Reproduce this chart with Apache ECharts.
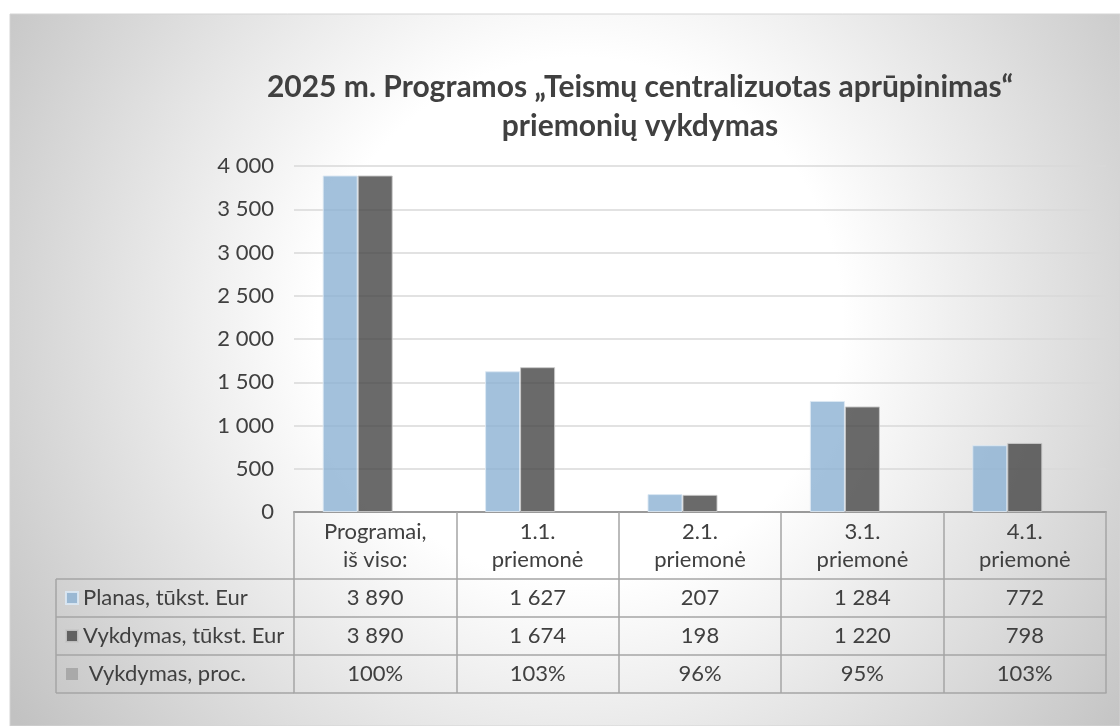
<!DOCTYPE html>
<html>
<head>
<meta charset="utf-8">
<script src="https://cdn.jsdelivr.net/npm/echarts@6/dist/echarts.min.js"></script>
<style>
  html, body { margin: 0; padding: 0; background: #fff; }
  #chart { width: 1120px; height: 726px; }
</style>
</head>
<body>
<div id="chart"></div>
<script>
const categories = ['Programai,\niš viso:', '1.1.\npriemonė', '2.1.\npriemonė', '3.1.\npriemonė', '4.1.\npriemonė']
const planas = [3890, 1627, 207, 1284, 772]
const vykdymas = [3890, 1674, 198, 1220, 798]
const vykdymasProc = [1.00, 1.03, 0.96, 0.95, 1.03]
const seriesNames = ['Planas, tūkst. Eur', 'Vykdymas, tūkst. Eur', ' Vykdymas, proc.']
const yMin = 0
const yMax = 4000
const yStep = 500

const fontFamily = 'Lato'
const textColor = '#404040'
const tableLine = '#a5a5a5'
const labelSize = 22

// 3 890 style thousands
const fmt = n => String(n).replace(/\B(?=(\d{3})+(?!\d))/g, ' ')
const pct = p => Math.round(p * 100) + '%'

// grid box (plot area + table columns)
const gridLeft = 294
const gridRight = 14
const gridTop = 166
const axisY = 512
// table row borders below the axis line
const rowOffsets = [67, 105, 143, 181]
const tableLeft = 56

const chart = echarts.init(document.getElementById('chart'))

const rowAxis = (offset, formatter) => ({
  type: 'category',
  gridIndex: 0,
  position: 'bottom',
  offset: offset,
  data: categories,
  axisLine: { show: true, lineStyle: { color: tableLine, width: 1.5 } },
  axisTick: { show: false },
  axisLabel: formatter ? {
    show: true,
    interval: 0,
    margin: 19,
    verticalAlign: 'middle',
    color: textColor,
    fontFamily: fontFamily,
    fontSize: labelSize,
    formatter: formatter
  } : { show: false }
})

const leftLines = rowOffsets.map(o => ({
  type: 'line',
  shape: { x1: tableLeft, y1: axisY + o, x2: gridLeft, y2: axisY + o },
  style: { stroke: tableLine, lineWidth: 1.5 }
}))
leftLines.push({
  type: 'line',
  shape: { x1: tableLeft, y1: axisY + rowOffsets[0], x2: tableLeft, y2: axisY + rowOffsets[3] },
  style: { stroke: tableLine, lineWidth: 1.5 }
})

const option = {
  backgroundColor: '#ffffff',
  animation: false,
  title: {
    text: '2025 m. Programos „Teismų centralizuotas aprūpinimas“\npriemonių vykdymas',
    left: 640,
    top: 68,
    padding: 0,
    textAlign: 'center',
    textStyle: {
      fontFamily: fontFamily,
      fontSize: 30,
      fontWeight: 'bold',
      lineHeight: 39,
      color: textColor
    }
  },
  legend: {
    data: seriesNames,
    orient: 'vertical',
    left: 65,
    top: 587,
    padding: 0,
    itemWidth: 12,
    itemHeight: 12,
    itemGap: 16,
    icon: 'rect',
    selectedMode: false,
    textStyle: { fontFamily: fontFamily, fontSize: labelSize, lineHeight: 22, color: textColor }
  },
  graphic: [
    {
      type: 'rect',
      z: -10,
      silent: true,
      shape: { x: 10, y: 14, width: 1110, height: 712 },
      style: {
        fill: new echarts.graphic.RadialGradient(580, 320, 690, [
          { offset: 0, color: '#ffffff' },
          { offset: 0.38, color: '#ffffff' },
          { offset: 1, color: '#c2c2c2' }
        ], true),
        stroke: '#d4d4d4',
        lineWidth: 1
      }
    },
    ...leftLines
  ],
  grid: {
    left: gridLeft,
    right: gridRight,
    top: gridTop,
    bottom: 726 - axisY
  },
  xAxis: [
    {
      type: 'category',
      data: categories,
      axisLine: { show: true, lineStyle: { color: '#9a9a9a', width: 2 } },
      axisTick: {
        show: true,
        interval: 0,
        length: rowOffsets[3],
        lineStyle: { color: tableLine, width: 1.5 }
      },
      axisLabel: {
        interval: 0,
        margin: 6,
        color: textColor,
        fontFamily: fontFamily,
        fontSize: labelSize,
        lineHeight: 28
      }
    },
    rowAxis(rowOffsets[0], (v, i) => fmt(planas[i])),
    rowAxis(rowOffsets[1], (v, i) => fmt(vykdymas[i])),
    rowAxis(rowOffsets[2], (v, i) => pct(vykdymasProc[i])),
    rowAxis(rowOffsets[3], null)
  ],
  yAxis: {
    type: 'value',
    min: yMin,
    max: yMax,
    interval: yStep,
    axisLine: { show: false },
    axisTick: { show: false },
    splitLine: { lineStyle: { color: '#d9d9d9', width: 1.5 } },
    axisLabel: {
      margin: 20,
      color: textColor,
      fontFamily: fontFamily,
      fontSize: labelSize,
      formatter: v => fmt(v)
    }
  },
  series: [
    {
      name: seriesNames[0],
      type: 'bar',
      data: planas,
      barWidth: 35,
      barGap: '0%',
      itemStyle: { color: 'rgba(140,178,211,0.8)', borderColor: 'rgba(220,232,243,0.9)', borderWidth: 1 }
    },
    {
      name: seriesNames[1],
      type: 'bar',
      data: vykdymas,
      barWidth: 35,
      barGap: '0%',
      itemStyle: { color: 'rgba(69,69,69,0.8)', borderColor: 'rgba(200,200,200,0.9)', borderWidth: 1 }
    },
    {
      name: seriesNames[2],
      type: 'bar',
      data: vykdymasProc,
      barWidth: 35,
      barGap: '0%',
      itemStyle: { color: '#a9a9a9' }
    }
  ]
}

chart.setOption(option)
</script>
</body>
</html>
